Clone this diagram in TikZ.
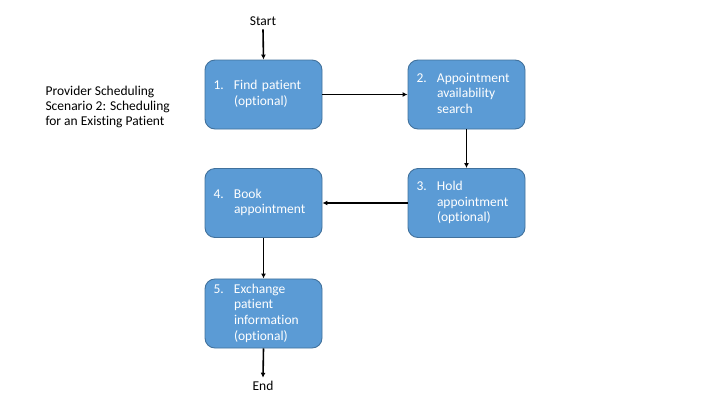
\documentclass[tikz,border=0pt]{standalone}
\usepackage{fontspec}
\setmainfont{Carlito}[Ligatures={NoCommon}]
\usetikzlibrary{arrows.meta,positioning}
\definecolor{boxfill}{HTML}{5B9BD5}
\definecolor{boxline}{HTML}{41719C}
\tikzset{
  stepbox/.style={draw=boxline, fill=boxfill, line width=0.9pt, rounded corners=10pt,
    minimum width=117pt, minimum height=69pt, text width=100pt, inner xsep=8.5pt,
    align=left, text=white, font=\fontsize{13.5}{15.6}\selectfont},
  plain/.style={font=\fontsize{13.5}{15.4}\selectfont, text=black},
  flow/.style={line width=1.6pt, -{Latex[length=5pt,width=5pt]}}
}
\newcommand{\steptext}[2]{\begin{tabular}{@{}p{20.5pt}@{}l@{}}#1&#2\end{tabular}}
\begin{document}
\begin{tikzpicture}[x=1pt,y=-1pt]
\useasboundingbox (0,0) rectangle (720,405);
\node[stepbox] (b1) at (263.5,94.5) {\steptext{1.}{Find patient\\&(optional)}};
\node[stepbox] (b2) at (466.5,94.5) {\steptext{2.}{Appointment\\&availability\\&search}};
\node[stepbox] (b3) at (466.5,203) {\steptext{3.}{Hold\\&appointment\\&(optional)}};
\node[stepbox] (b4) at (263.5,203) {\steptext{4.}{Book\\&appointment}};
\node[stepbox] (b5) at (263.5,313.5) {\steptext{5.}{Exchange\\&patient\\&information\\&(optional)}};
\node[plain] (start) at (263,21.5) {Start};
\node[plain] (end) at (263,386) {End};
\node[plain, anchor=west, align=left] (title) at (42,107) {Provider Scheduling\\Scenario 2: Scheduling\\for an Existing Patient};
\draw[flow] (start.south) -- (b1.north);
\draw[flow] (b1.east) -- (b2.west);
\draw[flow] (b2.south) -- (b3.north);
\draw[flow] (b3.west) -- (b4.east);
\draw[flow] (b4.south) -- (b5.north);
\draw[flow] (b5.south) -- (end.north);
\end{tikzpicture}
\end{document}
